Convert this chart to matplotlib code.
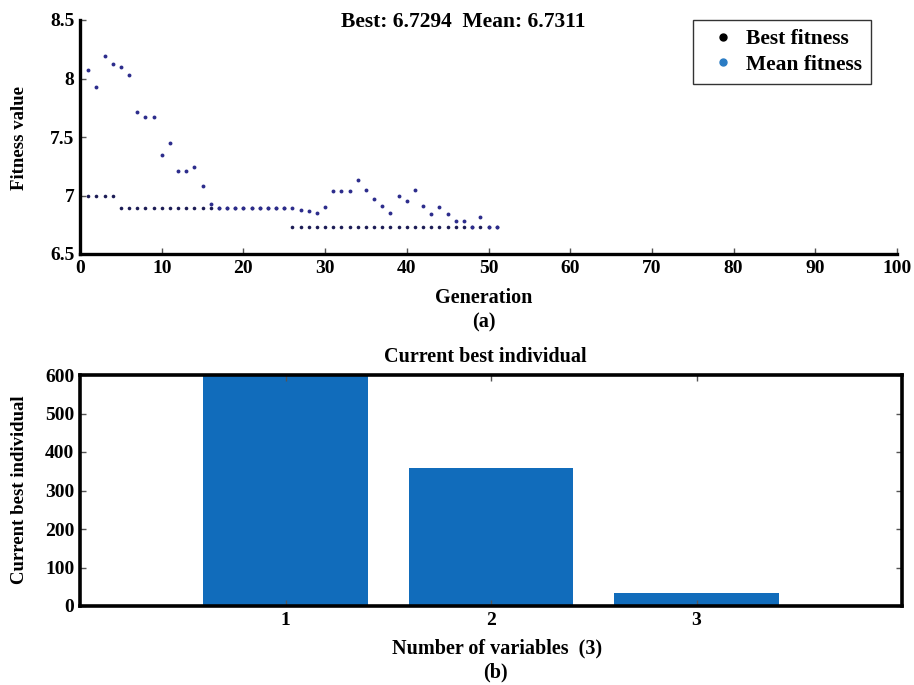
import matplotlib
matplotlib.use("Agg")
import matplotlib.pyplot as plt
from matplotlib.lines import Line2D

plt.rcParams['font.family'] = ['Liberation Serif', 'DejaVu Serif']
plt.rcParams['font.weight'] = 'bold'

# ---- data ----
generations = list(range(1, 52))
best_fitness = [7.00] * 4 + [6.89] * 21 + [6.7294] * 26
mean_fitness = [8.07, 7.93, 8.19, 8.12, 8.10, 8.03, 7.71, 7.67, 7.67, 7.35,
                7.45, 7.21, 7.21, 7.24, 7.08, 6.93, 6.89, 6.89, 6.89, 6.89,
                6.89, 6.89, 6.89, 6.89, 6.89, 6.89, 6.88, 6.87, 6.85, 6.90,
                7.04, 7.04, 7.04, 7.13, 7.05, 6.97, 6.91, 6.85, 7.00, 6.95,
                7.05, 6.91, 6.84, 6.90, 6.84, 6.78, 6.78, 6.73, 6.815, 6.73,
                6.7311]
x_ticks_a = list(range(0, 101, 10))
y_ticks_a = [6.5, 7, 7.5, 8, 8.5]
y_ticklabels_a = ['6.5', '7', '7.5', '8', '8.5']

variables = [1, 2, 3]
best_individual = [620, 358, 34]
y_ticks_b = [0, 100, 200, 300, 400, 500, 600]

W, H = 914, 685
fig = plt.figure(figsize=(W / 100, H / 100), dpi=100)

def fx(px):
    return px / W

def fy(py):
    return 1 - py / H

TICK = 14
LAB = 14.5

# ---- (a) ----
ax1 = fig.add_axes([fx(80), fy(254), fx(897) - fx(80), fy(20) - fy(254)])
ax1.plot(generations, best_fitness, linestyle='none', marker='o',
         markersize=2.6, color='#1c1c55', markeredgewidth=0)
ax1.plot(generations, mean_fitness, linestyle='none', marker='o',
         markersize=2.8, color='#2c2c8c', markeredgewidth=0)
ax1.set_xlim(0, 100)
ax1.set_ylim(6.5, 8.5)
ax1.set_xticks(x_ticks_a)
ax1.set_yticks(y_ticks_a)
ax1.set_yticklabels(y_ticklabels_a)
for s in ['top', 'right']:
    ax1.spines[s].set_visible(False)
for s in ['left', 'bottom']:
    ax1.spines[s].set_linewidth(2.4)
ax1.tick_params(direction='in', length=4, width=1, labelsize=TICK, pad=4,
                color='#555555')
for lab in ax1.get_xticklabels() + ax1.get_yticklabels():
    lab.set_fontweight('bold')

handles = [Line2D([], [], linestyle='none', marker='o', markersize=5, color='black'),
           Line2D([], [], linestyle='none', marker='o', markersize=5, color='#2a7cc4')]
leg = ax1.legend(handles, ['Best fitness', 'Mean fitness'], loc='upper right',
                 bbox_to_anchor=(0.973, 1.018), fancybox=False, framealpha=1,
                 edgecolor='#333333', prop={'weight': 'bold', 'size': 15.5},
                 handletextpad=0.1, handlelength=1.9, borderpad=0.42,
                 labelspacing=0.25, borderaxespad=0.2)
leg.get_frame().set_linewidth(1.0)

fig.text(fx(463), fy(22), 'Best: 6.7294  Mean: 6.7311', ha='center', va='center',
         fontsize=15.5, fontweight='bold')
fig.text(fx(20), fy(138), 'Fitness value', ha='center', va='center',
         rotation=90, fontsize=13.5, fontweight='bold')
fig.text(fx(484), fy(298), 'Generation', ha='center', va='center',
         fontsize=LAB, fontweight='bold')
fig.text(fx(484), fy(322), '(a)', ha='center', va='center',
         fontsize=LAB, fontweight='bold')

# ---- (b) ----
ax2 = fig.add_axes([fx(80), fy(606), fx(902) - fx(80), fy(375) - fy(606)])
ax2.bar(variables, best_individual, width=0.8, color='#116cbb')
ax2.set_xlim(0, 4)
ax2.set_ylim(0, 600)
ax2.set_xticks(variables)
ax2.set_yticks(y_ticks_b)
for s in ax2.spines.values():
    s.set_linewidth(2.6)
ax2.tick_params(direction='in', length=4, width=1, labelsize=TICK, pad=4,
                top=True, right=True, color='#555555')
for lab in ax2.get_xticklabels() + ax2.get_yticklabels():
    lab.set_fontweight('bold')

fig.text(fx(485), fy(357), 'Current best individual', ha='center', va='center',
         fontsize=LAB, fontweight='bold')
fig.text(fx(20), fy(490), 'Current best individual', ha='center', va='center',
         rotation=90, fontsize=13.5, fontweight='bold')
fig.text(fx(497), fy(648), 'Number of variables  (3)', ha='center', va='center',
         fontsize=LAB, fontweight='bold')
fig.text(fx(495), fy(672), '(b)', ha='center', va='center',
         fontsize=LAB, fontweight='bold')

fig.savefig('out.png', dpi=100)
